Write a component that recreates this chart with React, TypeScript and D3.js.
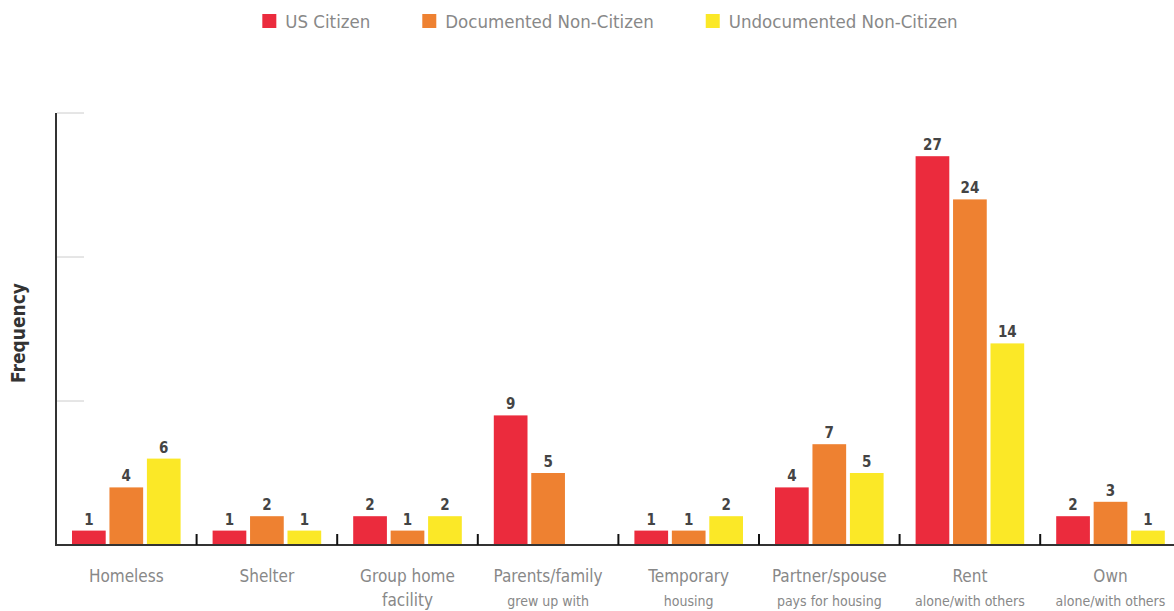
import React, { useEffect, useRef } from 'react'
import * as d3 from 'd3'

const categories = ['Homeless', 'Shelter', 'Group home', 'Parents/family', 'Temporary', 'Partner/spouse', 'Rent', 'Own']
const subLabels = ['', '', 'facility', 'grew up with', 'housing', 'pays for housing', 'alone/with others', 'alone/with others']
const series = ['US Citizen', 'Documented Non-Citizen', 'Undocumented Non-Citizen']
const usCitizen = [1, 1, 2, 9, 1, 4, 27, 2]
const documented = [4, 2, 1, 5, 1, 7, 24, 3]
const undocumented = [6, 1, 2, 0, 2, 5, 14, 1]
const yTicks = [10, 20, 30]

const colors = ['#eb2b3d', '#ee8131', '#fbe827']
const FONT = "'Liberation Sans Narrow', 'DejaVu Sans Condensed', 'Roboto', sans-serif"

const W = 1174
const H = 611

const App = () => {
    const svgRef = useRef<SVGSVGElement>(null)

    useEffect(() => {
        const svg = d3.select(svgRef.current)
        svg.selectAll('*').remove()

        const values = [usCitizen, documented, undocumented]
        const x0 = d3.scaleBand<string>().domain(categories).range([56, 56 + 8 * 140.6])
        const x1 = d3.scaleBand<number>().domain([0, 1, 2])
            .range([16, x0.bandwidth() - 16]).paddingInner(0.1)
        const y = d3.scaleLinear().domain([0, 30]).range([545, 113])

        // y grid stubs
        svg.append('g').selectAll('line').data(yTicks).join('line')
            .attr('x1', 57).attr('x2', 84)
            .attr('y1', d => y(d)).attr('y2', d => y(d))
            .attr('stroke', '#ccc').attr('stroke-width', 1)

        // bars
        const groups = svg.append('g').selectAll('g').data(categories).join('g')
            .attr('transform', d => `translate(${x0(d)},0)`)
        groups.selectAll('rect')
            .data((_, i) => values.map((v, s) => ({ s, v: v[i] })))
            .join('rect')
            .attr('x', d => x1(d.s)!)
            .attr('width', x1.bandwidth())
            .attr('y', d => y(d.v))
            .attr('height', d => y(0) - y(d.v))
            .attr('fill', d => colors[d.s])
        groups.selectAll('text.val')
            .data((_, i) => values.map((v, s) => ({ s, v: v[i] })).filter(d => d.v > 0))
            .join('text')
            .attr('class', 'val')
            .attr('x', d => x1(d.s)! + x1.bandwidth() / 2)
            .attr('y', d => y(d.v) - 6)
            .attr('text-anchor', 'middle')
            .attr('font-family', FONT)
            .attr('font-weight', 'bold')
            .attr('font-size', 15)
            .attr('fill', '#444')
            .text(d => d.v)

        // category labels
        groups.append('text')
            .attr('x', x0.bandwidth() / 2)
            .attr('y', 582)
            .attr('text-anchor', 'middle')
            .attr('font-family', FONT)
            .attr('font-size', 17)
            .attr('fill', '#888')
            .text(d => d)
        groups.append('text')
            .attr('x', x0.bandwidth() / 2)
            .attr('y', 606)
            .attr('text-anchor', 'middle')
            .attr('font-family', FONT)
            .attr('font-size', (_, i) => (i === 2 ? 17 : 14))
            .attr('fill', '#888')
            .text((_, i) => subLabels[i])

        // axes
        svg.append('line')
            .attr('x1', 56).attr('x2', W).attr('y1', 545).attr('y2', 545)
            .attr('stroke', '#333').attr('stroke-width', 2)
        svg.append('line')
            .attr('x1', 56).attr('x2', 56).attr('y1', 113).attr('y2', 546)
            .attr('stroke', '#333').attr('stroke-width', 2)
        svg.append('g').selectAll('line').data(categories.slice(1)).join('line')
            .attr('x1', d => x0(d)!).attr('x2', d => x0(d)!)
            .attr('y1', 534).attr('y2', 545)
            .attr('stroke', '#111').attr('stroke-width', 2)

        svg.append('text')
            .attr('transform', 'translate(25,333) rotate(-90)')
            .attr('text-anchor', 'middle')
            .attr('font-family', FONT)
            .attr('font-weight', 'bold')
            .attr('font-size', 19)
            .attr('fill', '#333')
            .text('Frequency')

        // legend
        const legend = svg.append('g')
        let cx = 0
        series.forEach((name, i) => {
            const item = legend.append('g').attr('transform', `translate(${cx},0)`)
            item.append('rect').attr('x', 0).attr('y', 14).attr('width', 14).attr('height', 14).attr('fill', colors[i])
            const t = item.append('text')
                .attr('x', 23).attr('y', 28)
                .attr('font-family', FONT)
                .attr('font-size', 18.5)
                .attr('fill', '#888')
                .text(name)
            cx += 23 + (t.node() as SVGTextElement).getComputedTextLength() + 52
        })
        const total = cx - 52
        legend.attr('transform', `translate(${610 - total / 2},0)`)
    }, [])

    return (
        <svg ref={svgRef} width={W} height={H}
            style={{ position: 'absolute', left: 0, top: 0, background: '#fff' }} />
    )
}

export default App
